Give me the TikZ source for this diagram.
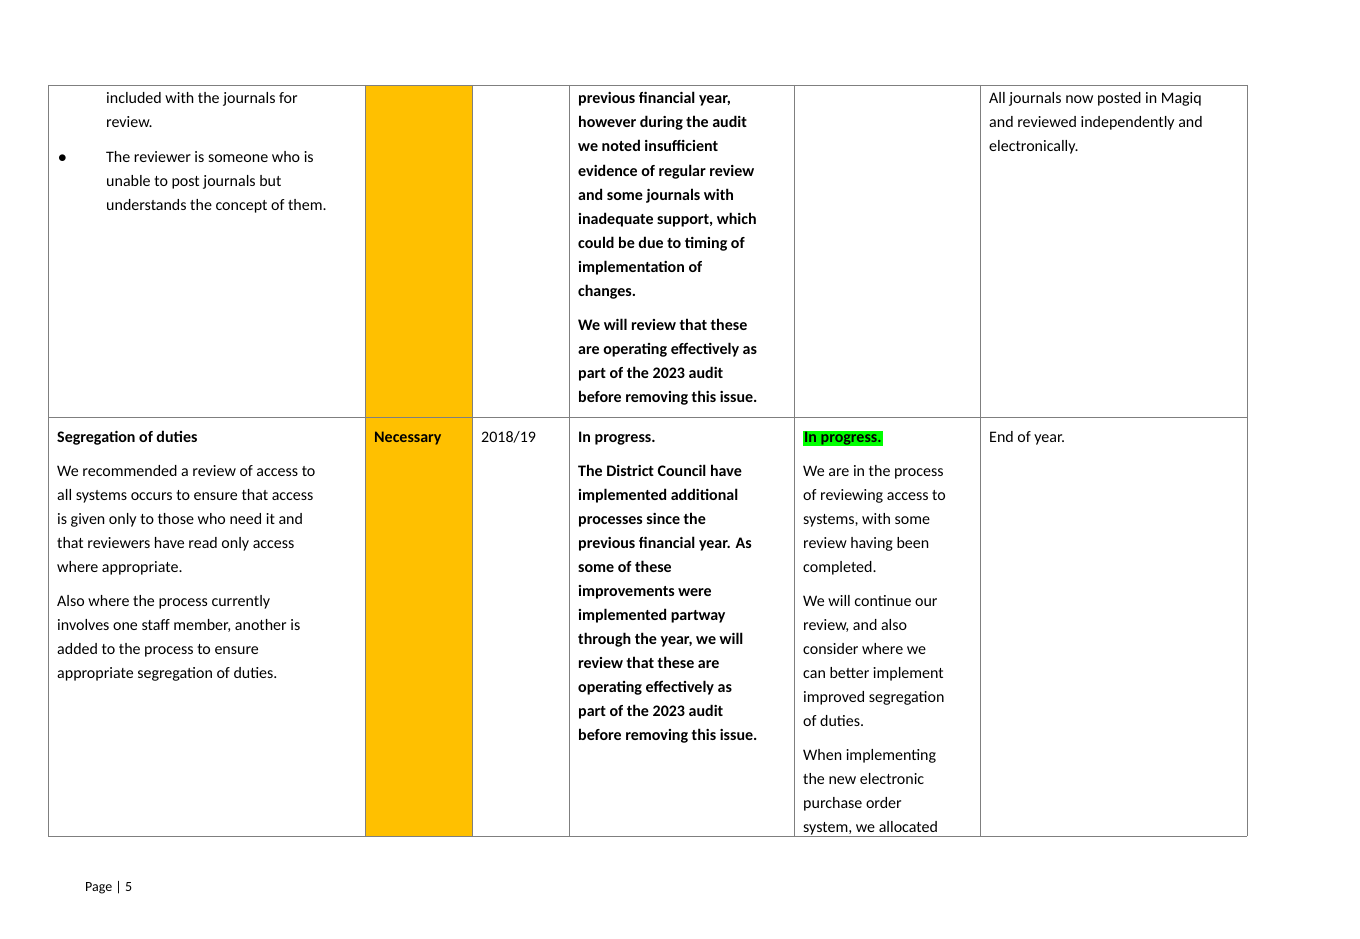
\documentclass[tikz,border=0pt]{standalone}
\usepackage{fontspec}
\setmainfont{Carlito}
\definecolor{amber}{HTML}{FFC000}
\definecolor{hlgreen}{HTML}{00FF00}
\definecolor{rule}{HTML}{7F7F7F}
\newcommand{\fs}{\fontsize{16}{24}\selectfont}
\tikzset{
  txt/.style={anchor=base west, inner sep=0pt, font=\fs},
  grid/.style={draw=rule, line width=0.8pt}
}
% one node per printed line, baselines 24 apart
\newcommand{\lines}[4]{%
  \foreach \t [count=\i from 0] in {#4}
    \node[txt] (#1-\i) at (#2,{#3+24*\i}) {\t};}
\begin{document}
\begin{tikzpicture}[x=1pt,y=-1pt]
\useasboundingbox (0,0) rectangle (1360,939);

% orange rating cells
\fill[amber] (365,85) rectangle (472,836);

% table rules
\foreach \x in {48,365,472,569,794,980,1247}
  \draw[grid] (\x,85) -- (\x,836);
\foreach \y in {85,417,836}
  \draw[grid] (48,\y) -- (1247,\y);

% row one
\lines{ra}{106}{104}{included with the journals for, review.}
\node[txt] (bul) at (58,162) {$\bullet$};
\lines{rb}{106}{162}{The reviewer is someone who is, unable to post journals but, understands the concept of them.}
\lines{rc}{578}{104}{\textbf{previous financial year,}, \textbf{however during the audit}, \textbf{we noted insufficient}, \textbf{evidence of regular review}, \textbf{and some journals with}, {\textbf{inadequate support, which}}, \textbf{could be due to timing of}, \textbf{implementation of}, \textbf{changes.}}
\lines{rd}{578}{330}{\textbf{We will review that these}, \textbf{are operating effectively as}, \textbf{part of the 2023 audit}, \textbf{before removing this issue.}}
\lines{re}{989}{104}{All journals now posted in Magiq, and reviewed independently and, electronically.}

% row two
\node[txt] (title) at (57,442) {\textbf{Segregation of duties}};
\lines{sa}{57}{476}{We recommended a review of access to, all systems occurs to ensure that access, is given only to those who need it and, that reviewers have read only access, where appropriate.}
\lines{sb}{57}{606}{Also where the process currently, {involves one staff member, another is}, added to the process to ensure, appropriate segregation of duties.}
\node[txt] (rate) at (374,442) {\textbf{Necessary}};
\node[txt] (yr) at (481,442) {2018/19};
\node[txt] (st) at (578,442) {\textbf{In progress.}};
\lines{sc}{578}{476}{\textbf{The District Council have}, \textbf{implemented additional}, \textbf{processes since the}, \textbf{previous financial year. As}, \textbf{some of these}, \textbf{improvements were}, \textbf{implemented partway}, {\textbf{through the year, we will}}, \textbf{review that these are}, \textbf{operating effectively as}, \textbf{part of the 2023 audit}, \textbf{before removing this issue.}}
\node[txt, fill=hlgreen, inner sep=1pt] (mg) at (803,442) {\textbf{In progress.}};
\lines{sd}{803}{476}{We are in the process, of reviewing access to, {systems, with some}, review having been, completed.}
\lines{se}{803}{606}{We will continue our, {review, and also}, consider where we, can better implement, improved segregation, of duties.}
\lines{sf}{803}{760}{When implementing, the new electronic, purchase order, {system, we allocated}}
\node[txt] (due) at (989,442) {End of year.};

% footer
\node[txt, font=\fontsize{14}{18}\selectfont] (pg) at (85,891) {Page | 5};
\end{tikzpicture}
\end{document}
